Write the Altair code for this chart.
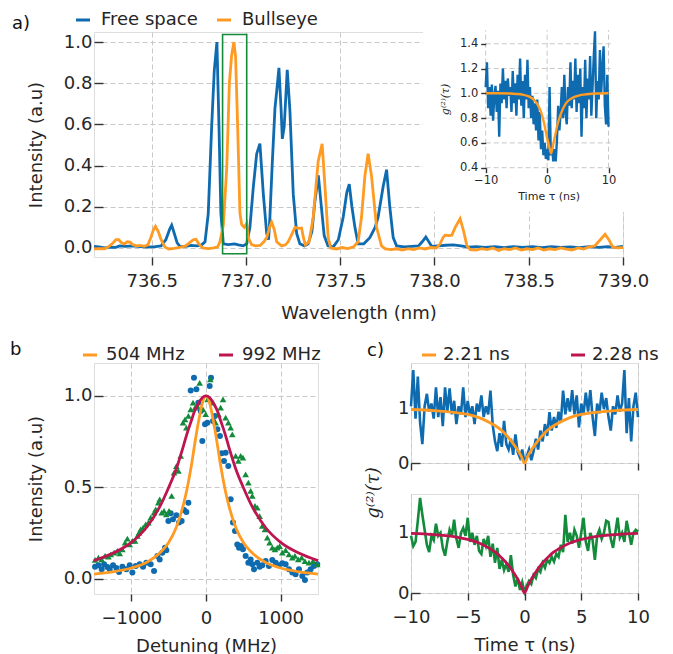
import altair as alt
import pandas as pd

BLUE = "#0F6BB0"
ORANGE = "#FF9A22"
GREEN = "#138B3B"
CRIMSON = "#BE1450"
GRID = "#C8C8C8"
INK = "#262626"
TICK = "#333333"
FONT = "DejaVu Sans"

# ---------------- panel a: spectra ----------------
wl_free = [736.194, 736.22, 736.25, 736.28, 736.31, 736.33, 736.36, 736.40, 736.44, 736.48, 736.52, 736.55,
           736.575, 736.595, 736.606, 736.62, 736.635, 736.65, 736.68, 736.71, 736.74, 736.765, 736.783,
           736.80, 736.818, 736.832, 736.846, 736.857, 736.867, 736.88, 736.906, 736.94, 736.96, 736.985,
           737.004, 737.021, 737.039, 737.057, 737.074, 737.092, 737.11, 737.12, 737.127, 737.139, 737.154,
           737.163, 737.175, 737.186, 737.193, 737.203, 737.219, 737.233, 737.251, 737.269, 737.286, 737.31,
           737.33, 737.35, 737.365, 737.384, 737.40, 737.415, 737.435, 737.463, 737.49, 737.516, 737.535,
           737.548, 737.562, 737.578, 737.595, 737.625, 737.657, 737.685, 737.701, 737.728, 737.746, 737.763,
           737.781, 737.799, 737.84, 737.88, 737.915, 737.935, 737.954, 737.97, 737.985, 738.02, 738.06,
           738.10, 738.14, 738.18, 738.22, 738.27, 738.32, 738.37, 738.42, 738.47, 738.52, 738.57, 738.62,
           738.67, 738.72, 738.77, 738.82, 738.87, 738.92, 738.96, 739.0]
int_free = [0.008, 0.005, 0.0, 0.004, 0.003, 0.01, 0.008, 0.01, 0.006, 0.004, 0.006, 0.01,
            0.04, 0.09, 0.11, 0.07, 0.025, 0.008, 0.008, 0.012, 0.01, 0.015, 0.03,
            0.166, 0.587, 0.862, 1.0, 0.59, 0.17, 0.02, 0.016, 0.02, 0.015, 0.01,
            0.02, 0.1, 0.296, 0.458, 0.507, 0.264, 0.07, 0.04, 0.15, 0.4, 0.68,
            0.76, 0.875, 0.68, 0.53, 0.59, 0.865, 0.67, 0.26, 0.07, 0.02, 0.01,
            0.02, 0.08, 0.22, 0.353, 0.2, 0.06, 0.01, 0.005, 0.04, 0.15, 0.27,
            0.31, 0.2, 0.1, 0.02, 0.02, 0.05, 0.1, 0.15, 0.3, 0.38, 0.2,
            0.05, 0.01, 0.005, 0.008, 0.01, 0.03, 0.053, 0.03, 0.008, 0.01, 0.013,
            0.015, 0.01, 0.004, 0.006, 0.003, 0.006, 0.002, 0.006, 0.003, 0.006, 0.002, 0.006,
            0.003, 0.005, 0.002, 0.006, 0.003, 0.006, 0.003, 0.007]

wl_bull = [736.194, 736.22, 736.25, 736.27, 736.29, 736.31, 736.325, 736.34, 736.355, 736.37, 736.385, 736.40,
           736.42, 736.44, 736.46, 736.48, 736.495, 736.51, 736.52, 736.535, 736.55, 736.57, 736.59, 736.62,
           736.65, 736.68, 736.70, 736.72, 736.735, 736.75, 736.77, 736.80, 736.83, 736.85, 736.862, 736.88,
           736.898, 736.912, 736.924, 736.936, 736.945, 736.956, 736.968, 736.977, 736.991, 737.004, 737.012,
           737.03, 737.05, 737.075, 737.095, 737.11, 737.125, 737.136, 737.15, 737.163, 737.189, 737.21,
           737.224, 737.245, 737.26, 737.28, 737.295, 737.305, 737.315, 737.335, 737.357, 737.383, 737.404,
           737.419, 737.436, 737.45, 737.48, 737.51, 737.54, 737.57, 737.595, 737.613, 737.631, 737.648,
           737.666, 737.693, 737.719, 737.74, 737.77, 737.80, 737.83, 737.86, 737.89, 737.92, 737.95, 737.98,
           738.01, 738.03, 738.045, 738.056, 738.075, 738.092, 738.11, 738.136, 738.155, 738.172, 738.19,
           738.22, 738.25, 738.28, 738.31, 738.34, 738.37, 738.40, 738.43, 738.46, 738.49, 738.52, 738.55,
           738.58, 738.61, 738.64, 738.67, 738.70, 738.73, 738.76, 738.79, 738.82, 738.85, 738.875, 738.905,
           738.925, 738.945, 738.97, 739.0]
int_bull = [-0.005, -0.003, -0.004, 0.005, 0.02, 0.04, 0.04, 0.025, 0.02, 0.03, 0.028, 0.015,
            0.01, 0.012, 0.008, 0.015, 0.05, 0.09, 0.105, 0.08, 0.04, 0.005, -0.005, -0.002,
            0.003, 0.01, 0.025, 0.04, 0.042, 0.02, 0.0, -0.003, 0.0, 0.005, 0.03, 0.11,
            0.385, 0.80, 0.935, 1.0, 0.93, 0.59, 0.17, 0.114, 0.1, 0.12, 0.05,
            0.016, 0.01, 0.012, 0.03, 0.05, 0.1, 0.126, 0.09, 0.03, 0.01, 0.015,
            0.03, 0.07, 0.1, 0.095, 0.097, 0.05, 0.015, 0.03, 0.15, 0.42, 0.506,
            0.3, 0.05, 0.0, -0.005, 0.002, -0.003, 0.005, 0.03, 0.15, 0.35, 0.458,
            0.35, 0.1, 0.01, -0.005, -0.008, -0.004, -0.01, -0.003, -0.008, 0.0, -0.005, 0.002,
            0.0, 0.02, 0.05, 0.062, 0.06, 0.062, 0.1, 0.142, 0.08, 0.01, -0.008,
            -0.01, -0.003, -0.008, 0.0, -0.012, -0.004, -0.008, 0.0, -0.01, -0.004, -0.008, 0.0,
            -0.01, -0.004, -0.008, 0.0, -0.006, -0.01, 0.0, -0.005, 0.005, 0.01, 0.035, 0.066,
            0.04, 0.005, 0.0, 0.002]

box_wl = [736.876, 737.004]
box_int = [-0.028, 1.037]

# ---------------- inset of panel a ----------------
inset_t = [round(-10 + 0.2 * i, 1) for i in range(101)]
inset_g = [1.05, 1.25, 0.88, 1.05, 0.82, 1.07, 0.78, 0.98, 1.06, 0.85,
           1.02, 0.65, 1.08, 0.92, 1.20, 0.95, 1.10, 0.88, 1.12, 0.98,
           1.05, 0.85, 1.18, 0.92, 1.08, 0.82, 1.15, 0.95, 1.28, 0.90,
           1.10, 0.80, 1.15, 0.95, 1.27, 0.88, 1.05, 0.80, 0.98, 0.75,
           0.92, 0.70, 0.95, 0.62, 0.85, 0.55, 0.70, 0.50, 0.60, 0.47,
           0.55, 0.46, 1.05, 0.50, 0.58, 0.45, 0.55, 0.45, 0.62, 0.90,
           0.70, 0.85, 1.05, 0.80, 1.15, 0.85, 0.75, 1.05, 0.90, 1.25,
           0.88, 1.10, 0.95, 1.28, 0.85, 1.15, 0.92, 1.20, 0.65, 1.05,
           0.88, 1.27, 0.80, 1.12, 0.95, 1.30, 0.82, 1.05, 1.30, 1.50,
           0.80, 1.10, 0.95, 1.35, 1.00, 1.20, 1.38, 0.90, 0.75, 1.15, 0.73]
inset_fit_t = [-10, -8, -6, -5, -4, -3, -2, -1.5, -1, -0.5, 0, 0.3, 0.66, 1.0, 1.3, 1.7, 2.2, 3, 4, 5, 6, 8, 10]
inset_fit_g = [1.0, 1.0, 0.998, 0.995, 0.99, 0.975, 0.94, 0.905, 0.85, 0.76, 0.64, 0.58, 0.516, 0.59, 0.66,
               0.75, 0.83, 0.915, 0.96, 0.98, 0.99, 0.998, 1.0]
inset_xticks = [-10, 0, 10]
inset_yticks = [0.4, 0.6, 0.8, 1.0, 1.2, 1.4]

# ---------------- panel b ----------------
b_blue_d = [-1486, -1441, -1397, -1365, -1321, -1290, -1245, -1200, -1165, -1120, -1066, -1022, -986, -941,
            -888, -843, -799, -741, -696, -651, -620, -585, -549, -531, -504, -473, -442, -397, -361, -326,
            -294, -263, -236, -161, -129, -103, -71, -49, -13, 18, 49, 67, 94, 120, 152, 187, 210, 241, 263,
            299, 330, 361, 388, 419, 442, 469, 495, 531, 567, 598, 620, 643, 687, 718, 754, 799, 843, 888,
            933, 977, 1022, 1066, 1111, 1156, 1200, 1245, 1290, 1325, 1356, 1401, 1446, 1490, -205]
b_blue_I = [0.067, 0.075, 0.053, 0.080, 0.066, 0.053, 0.075, 0.060, 0.038, 0.067, 0.053, 0.075, 0.035, 0.071,
            0.080, 0.067, 0.089, 0.080, 0.044, 0.126, 0.107, 0.144, 0.171, 0.157, 0.317, 0.359, 0.326, 0.348,
            0.308, 0.317, 0.377, 0.366, 0.417, 1.10, 1.036, 0.963, 0.918, 0.754, 0.845, 0.854, 1.055, 1.10,
            0.863, 0.891, 0.818, 0.781, 0.687, 0.645, 0.690, 0.617, 0.435, 0.308, 0.262, 0.189, 0.171, 0.180,
            0.162, 0.126, 0.089, 0.107, 0.080, 0.053, 0.089, 0.067, 0.075, 0.098, 0.071, 0.104, 0.089, 0.075,
            0.086, 0.080, 0.053, 0.035, 0.026, 0.053, 0.016, -0.005, 0.035, 0.053, 0.071, 0.080, 1.03]
b_green_d = [-1486, -1441, -1397, -1352, -1307, -1276, -1231, -1187, -1156, -1120, -1084, -1053, -1022, -986,
             -950, -919, -897, -875, -843, -808, -772, -741, -696, -674, -638, -620, -593, -562, -531, -495,
             -460, -428, -397, -370, -339, -308, -281, -263, -236, -205, -174, -147, -116, -85, -40, -4, 22,
             58, 94, 129, 165, 196, 228, 263, 299, 330, 352, 397, 433, 464, 495, 531, 567, 598, 620, 656,
             687, 718, 754, 790, 821, 852, 888, 924, 955, 986, 1022, 1066, 1111, 1156, 1191, 1236, 1281,
             1325, 1379, 1432, 1490]
b_green_I = [0.104, 0.117, 0.107, 0.126, 0.122, 0.135, 0.144, 0.153, 0.140, 0.162, 0.199, 0.220, 0.189, 0.208,
             0.208, 0.235, 0.253, 0.271, 0.280, 0.299, 0.308, 0.335, 0.362, 0.381, 0.417, 0.435, 0.362, 0.372,
             0.353, 0.372, 0.454, 0.581, 0.617, 0.590, 0.672, 0.854, 0.872, 0.827, 0.891, 0.927, 0.963, 0.936,
             0.945, 1.072, 0.927, 0.900, 0.981, 1.091, 0.963, 0.854, 0.900, 0.936, 0.981, 0.881, 0.854, 0.827,
             0.790, 0.672, 0.645, 0.672, 0.663, 0.572, 0.526, 0.481, 0.454, 0.399, 0.390, 0.344, 0.290, 0.271,
             0.226, 0.199, 0.171, 0.162, 0.171, 0.180, 0.144, 0.158, 0.135, 0.117, 0.126, 0.107, 0.117, 0.098,
             0.089, 0.098, 0.080]
b_fit_d = [-1500, -1250, -1000, -800, -600, -500, -400, -300, -250, -200, -150, -100, -50, 0,
           50, 100, 150, 200, 250, 300, 400, 500, 600, 800, 1000, 1250, 1500]
b_fit_504 = [0.027, 0.039, 0.06, 0.09, 0.15, 0.2, 0.28, 0.41, 0.5, 0.61, 0.74, 0.86, 0.96, 1.0,
             0.96, 0.86, 0.74, 0.61, 0.5, 0.41, 0.28, 0.2, 0.15, 0.09, 0.06, 0.039, 0.027]
b_fit_992 = [0.1, 0.14, 0.2, 0.28, 0.41, 0.5, 0.6, 0.73, 0.8, 0.86, 0.92, 0.96, 0.99, 1.0,
             0.99, 0.96, 0.92, 0.86, 0.8, 0.73, 0.6, 0.5, 0.41, 0.28, 0.2, 0.14, 0.1]

# ---------------- panel c ----------------
c_t = [round(-10 + 0.2 * i, 1) for i in range(101)]
c_top = [1.05, 1.72, 0.82, 1.60, 0.75, 0.35, 1.05, 1.28, 0.95, 1.10,
         0.82, 1.40, 0.85, 1.22, 0.68, 1.40, 0.95, 1.38, 0.90, 1.15,
         0.72, 1.05, 0.90, 1.40, 0.85, 1.15, 0.88, 1.05, 0.72, 1.10,
         0.95, 1.25, 0.85, 1.05, 0.90, 1.34, 0.70, 0.40, 0.22, 0.55,
         0.30, 0.78, 0.35, 0.25, 0.45, 0.15, 0.53, 0.20, 0.10, 0.25,
         0.00, 0.12, 0.25, 0.05, 0.22, 0.45, 0.25, 0.60, 0.40, 0.72,
         0.50, 0.94, 0.60, 0.85, 0.65, 0.95, 0.75, 1.34, 0.90, 1.20,
         0.95, 1.35, 0.90, 1.25, 0.66, 1.10, 0.90, 1.30, 0.95, 1.35,
         0.85, 0.50, 1.10, 0.92, 1.30, 1.00, 1.20, 0.85, 0.60, 1.05,
         0.90, 1.25, 0.95, 1.10, 1.72, 0.55, 1.20, 0.40, 1.05, 1.30, 0.85]
c_bot = [0.95, 0.78, 0.85, 1.20, 1.58, 1.30, 1.05, 0.80, 0.68, 0.95,
         0.88, 1.15, 0.95, 1.00, 0.75, 0.62, 0.85, 1.05, 0.95, 1.22,
         0.90, 0.75, 1.00, 1.08, 0.95, 1.25, 0.85, 1.00, 0.80, 0.95,
         0.70, 0.65, 0.90, 0.78, 0.95, 0.60, 0.82, 0.50, 0.75, 0.40,
         0.55, 0.38, 0.48, 0.35, 0.63, 0.30, 0.11, 0.25, 0.05, 0.18,
         0.02, 0.12, 0.20, 0.15, 0.30, 0.25, 0.40, 0.35, 0.50, 0.42,
         0.55, 0.50, 0.60, 0.52, 0.65, 0.60, 0.80, 0.68, 1.30, 0.85,
         1.00, 0.82, 1.05, 0.95, 0.75, 1.00, 1.25, 0.85, 0.70, 1.00,
         0.88, 0.55, 0.95, 1.05, 0.90, 1.00, 1.20, 1.18, 0.90, 0.75,
         1.00, 1.25, 0.92, 1.00, 0.85, 1.20, 1.00, 0.80, 1.00, 1.05, 1.02]
c_fit_t = [-10, -8, -6, -5, -4, -3, -2.5, -2, -1.5, -1, -0.6, -0.3, 0, 0.3, 0.6, 1, 1.5, 2, 2.5, 3, 4, 5, 6, 8, 10]
c_fit_221 = [0.99, 0.97, 0.93, 0.9, 0.84, 0.74, 0.68, 0.6, 0.49, 0.36, 0.24, 0.13, 0.0,
             0.13, 0.24, 0.36, 0.49, 0.6, 0.68, 0.74, 0.84, 0.9, 0.93, 0.97, 0.99]
c_fit_228 = [0.99, 0.97, 0.93, 0.89, 0.83, 0.73, 0.67, 0.58, 0.48, 0.35, 0.23, 0.12, 0.0,
             0.12, 0.23, 0.35, 0.48, 0.58, 0.67, 0.73, 0.83, 0.89, 0.93, 0.97, 0.99]


def ax(**kw):
    base = dict(grid=True, gridDash=[5, 3], gridColor=GRID, gridWidth=1, domain=False, labelFlush=False,
                tickColor=TICK, tickWidth=1.4, labelFont=FONT, labelFontSize=18, labelColor=INK,
                titleFont=FONT, titleFontSize=18, titleFontWeight="normal", titleColor=INK)
    base.update(kw)
    return alt.Axis(**base)


def legend(x, y, colpad, laboff):
    return alt.Legend(orient="none", legendX=x, legendY=y, direction="horizontal", title=None,
                      symbolType="stroke", symbolSize=196, symbolStrokeWidth=3, labelFont=FONT,
                      labelFontSize=18, labelColor=INK, labelOffset=laboff, columnPadding=colpad, padding=0)


def label(txt, x, y):
    return alt.Chart(pd.DataFrame({"lab": [txt]})).mark_text(
        align="left", baseline="alphabetic", font=FONT, fontSize=18, color="#111111"
    ).encode(x=alt.value(x), y=alt.value(y), text="lab:N")


# ---------- panel a ----------
sxA = alt.Scale(domain=[736.194, 739.0], nice=False, zero=False)
syA = alt.Scale(domain=[-0.044, 1.049], nice=False, zero=False)
axAx = ax(values=[736.5, 737.0, 737.5, 738.0, 738.5, 739.0], format=".1f", tickSize=8, labelPadding=7,
          title="Wavelength (nm)", titlePadding=14)
axAy = ax(values=[0, 0.2, 0.4, 0.6, 0.8, 1.0], format=".1f", tickSize=9, offset=-9, labelPadding=2,
          title="Intensity (a.u)", titlePadding=18)
colA = alt.Color("series:N", scale=alt.Scale(domain=["Free space", "Bullseye"], range=[BLUE, ORANGE]),
                 legend=legend(-20, -21, 13, 9))

df_free = pd.DataFrame({"wl": wl_free, "I": int_free, "series": "Free space"})
df_bull = pd.DataFrame({"wl": wl_bull, "I": int_bull, "series": "Bullseye"})
XA = alt.X("wl:Q", scale=sxA, axis=axAx)
YA = alt.Y("I:Q", scale=syA, axis=axAy)
a_free = alt.Chart(df_free).mark_line(strokeWidth=2.8).encode(x=XA, y=YA, color=colA)
a_bull = alt.Chart(df_bull).mark_line(strokeWidth=2.8).encode(x=XA, y=YA, color=colA)
a_box = alt.Chart(pd.DataFrame({"wl": [box_wl[0]], "wl2": [box_wl[1]], "I": [box_int[0]], "I2": [box_int[1]]})).mark_rect(
    fillOpacity=0, stroke=GREEN, strokeWidth=1.6).encode(x=XA, x2="wl2:Q", y=YA, y2="I2:Q")
mainA = alt.layer(a_free, a_bull, a_box, label("a)", -82, -3))

sxI = alt.Scale(domain=[-10, 10.5], range=[391.7, 517.6], nice=False, zero=False)
syI = alt.Scale(domain=[0.4, 1.51], range=[135.7, -1.9], nice=False, zero=False)
axIx = ax(orient="bottom", offset=-89.3, values=inset_xticks, format="d", grid=False, tickSize=5,
          labelFontSize=11.5, labelPadding=2, title="Time τ (ns)", titleFontSize=11, titlePadding=4, zindex=1)
axIy = ax(orient="left", offset=-391.7, values=inset_yticks, format=".1f", grid=False, tickSize=5,
          labelFontSize=11.5, labelPadding=3, title="g⁽²⁾(τ)", titleFont="DejaVu Serif", titleFontStyle="italic",
          titleFontSize=11, titlePadding=9, zindex=1)
XI = alt.X("t:Q", scale=sxI, axis=axIx)
YI = alt.Y("g:Q", scale=syI, axis=axIy)
i_bg = alt.Chart(pd.DataFrame({"t": [-20.2], "t2": [12.7], "g": [0.043], "g2": [1.559]})).mark_rect(
    color="white").encode(x=XI, x2="t2:Q", y=YI, y2="g2:Q")
i_gv = alt.Chart(pd.DataFrame({"t": inset_xticks, "g": [0.4] * 3, "g2": [1.51] * 3})).mark_rule(
    color=GRID, strokeDash=[5, 3], strokeWidth=1).encode(x=XI, y=YI, y2="g2:Q")
i_gh = alt.Chart(pd.DataFrame({"g": inset_yticks, "t": [-10] * 6, "t2": [10.5] * 6})).mark_rule(
    color=GRID, strokeDash=[5, 3], strokeWidth=1).encode(y=YI, x=XI, x2="t2:Q")
i_line = alt.Chart(pd.DataFrame({"t": inset_t, "g": inset_g})).mark_line(color=BLUE, strokeWidth=2.4).encode(x=XI, y=YI)
i_fit = alt.Chart(pd.DataFrame({"t": inset_fit_t, "g": inset_fit_g})).mark_line(
    color=ORANGE, strokeWidth=2.4, interpolate="monotone").encode(x=XI, y=YI)
insetA = alt.layer(i_bg, i_gv, i_gh, i_line, i_fit)

A = alt.layer(mainA, insetA).resolve_scale(x="independent", y="independent").properties(width=529, height=225)

# ---------- panel b ----------
sxB = alt.Scale(domain=[-1500, 1500], nice=False, zero=False)
syB = alt.Scale(domain=[-0.082, 1.18], nice=False, zero=False)
axBx = ax(values=[-1000, 0, 1000], format="d", tickSize=7, labelPadding=8, title="Detuning (MHz)", titlePadding=10)
axBy = ax(values=[0, 0.5, 1.0], format=".1f", tickSize=9, offset=-9, labelPadding=2, title="Intensity (a.u)",
          titlePadding=18)
XB = alt.X("d:Q", scale=sxB, axis=axBx)
YB = alt.Y("I:Q", scale=syB, axis=axBy)
colB = alt.Color("fitb:N", scale=alt.Scale(domain=["504 MHz", "992 MHz"], range=[ORANGE, CRIMSON]),
                 legend=legend(-13, -17, 28, 7))
b_pb = alt.Chart(pd.DataFrame({"d": b_blue_d, "I": b_blue_I})).mark_point(
    filled=True, shape="circle", size=36, color=BLUE, opacity=1).encode(x=XB, y=YB)
b_pg = alt.Chart(pd.DataFrame({"d": b_green_d, "I": b_green_I})).mark_point(
    filled=True, shape="triangle-up", size=44, color=GREEN, opacity=1).encode(x=XB, y=YB)
b_f1 = alt.Chart(pd.DataFrame({"d": b_fit_d, "I": b_fit_504, "fitb": "504 MHz"})).mark_line(
    strokeWidth=2.8, interpolate="monotone").encode(x=XB, y=YB, color=colB)
b_f2 = alt.Chart(pd.DataFrame({"d": b_fit_d, "I": b_fit_992, "fitb": "992 MHz"})).mark_line(
    strokeWidth=2.8, interpolate="monotone").encode(x=XB, y=YB, color=colB)
B = alt.layer(b_pb, b_pg, b_f1, b_f2, label("b", -84, -8)).properties(width=224, height=231)

# ---------- panel c ----------
sxC = alt.Scale(domain=[-10, 10], nice=False, zero=False)
syC1 = alt.Scale(domain=[0, 1.85], nice=False, zero=False)
syC2 = alt.Scale(domain=[0, 1.645], nice=False, zero=False)
axC1x = ax(values=[-10, -5, 0, 5, 10], labels=False, tickSize=7, title=None)
axC2x = ax(values=[-10, -5, 0, 5, 10], format="d", tickSize=7, labelPadding=8, title="Time τ (ns)", titlePadding=10)
axCy = ax(values=[0, 1], format="d", tickSize=9, offset=-9, labelPadding=2, title=None)
XC1 = alt.X("t:Q", scale=sxC, axis=axC1x)
XC2 = alt.X("t:Q", scale=sxC, axis=axC2x)
YC1 = alt.Y("g:Q", scale=syC1, axis=axCy)
YC2 = alt.Y("g:Q", scale=syC2, axis=axCy)
colC = alt.Color("fitc:N", scale=alt.Scale(domain=["2.21 ns", "2.28 ns"], range=[ORANGE, CRIMSON]),
                 legend=legend(9, -17, 55, 5))
c1_line = alt.Chart(pd.DataFrame({"t": c_t, "g": c_top})).mark_line(color=BLUE, strokeWidth=2.6).encode(x=XC1, y=YC1)
c1_fit = alt.Chart(pd.DataFrame({"t": c_fit_t, "g": c_fit_221, "fitc": "2.21 ns"})).mark_line(
    strokeWidth=2.8, interpolate="monotone").encode(x=XC1, y=YC1, color=colC)
C1 = alt.layer(c1_line, c1_fit, label("c)", -44, -7)).properties(width=227, height=100)

c2_line = alt.Chart(pd.DataFrame({"t": c_t, "g": c_bot})).mark_line(color=GREEN, strokeWidth=2.6).encode(x=XC2, y=YC2)
c2_fit = alt.Chart(pd.DataFrame({"t": c_fit_t, "g": c_fit_228})).mark_line(
    color=CRIMSON, strokeWidth=2.8, interpolate="monotone").encode(x=XC2, y=YC2)
g2_title = alt.Chart(pd.DataFrame({"lab": ["g⁽²⁾(τ)"]})).mark_text(
    align="center", baseline="middle", angle=270, font="DejaVu Serif", fontStyle="italic", fontSize=18, color=INK
).encode(x=alt.value(-37), y=alt.value(-1), text="lab:N")
C2 = alt.layer(c2_line, c2_fit, g2_title).properties(width=227, height=99)

C = alt.vconcat(C1, C2, spacing=31, bounds="flush").resolve_scale(color="independent").resolve_legend(color="independent")
row = alt.hconcat(B, C, spacing=39).resolve_scale(color="independent").resolve_legend(color="independent")
Awrap = alt.hconcat(A).resolve_scale(color="independent").resolve_legend(color="independent")

chart = alt.vconcat(Awrap, row, spacing=17).resolve_scale(color="independent").resolve_legend(
    color="independent").properties(padding={"left": 1, "top": 2, "right": 0, "bottom": 0}).configure_view(
    stroke=None).configure(background="white")

chart.save("out.html", embed_options={"renderer": "svg", "actions": False})
